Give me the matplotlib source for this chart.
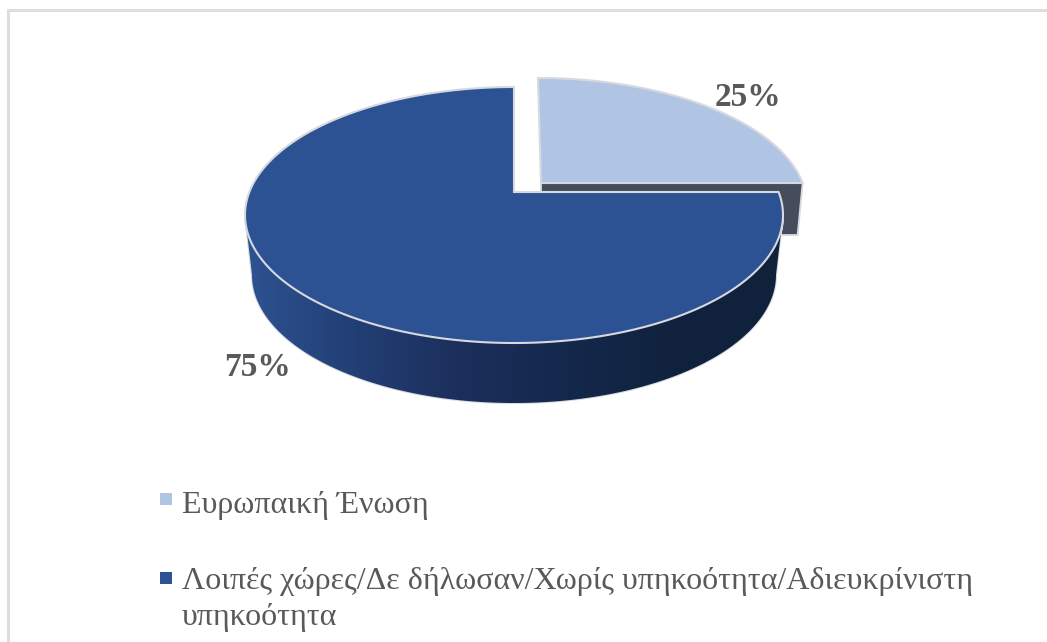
import numpy as np
import matplotlib
matplotlib.use("Agg")
import matplotlib.pyplot as plt
from matplotlib.colors import LinearSegmentedColormap
from matplotlib.patches import Polygon

categories = ["Ευρωπαική Ένωση", "Λοιπές χώρες/Δε δήλωσαν/Χωρίς υπηκοότητα/Αδιευκρίνιστη\nυπηκοότητα"]
values = [25, 75]
labels = ["25%", "75%"]
colors = ["#B0C4E3", "#2C5294"]

plt.rcParams["font.family"] = ["Liberation Serif", "DejaVu Serif"]

fig = plt.figure(figsize=(10.47, 6.42), dpi=100)
ax = fig.add_axes([0, 0, 1, 1])
ax.set_xlim(0, 1047)
ax.set_ylim(642, 0)
ax.axis("off")

edge = "#D6D9DF"
text_color = "#595959"

# chart frame, only top and left are in the crop
ax.plot([8, 8, 1047], [642, 10, 10], color="#DEDEDE", lw=2.2, solid_joinstyle="miter")

# pie geometry in pixels: ellipse, and the tilted apex of the slices
cx, cy, rx, ry = 514, 215, 269, 128
apex_y = 192
bx, by, brx, bry = 514, 275, 262, 128


def rim(angles, dx=0, dy=0):
    # where a ray from the apex meets the ellipse, for each pie angle
    pts = []
    for a in np.radians(angles):
        ux = np.cos(a)
        uy = -np.sin(a) * ry / rx
        k = apex_y - cy
        A = (ux / rx) ** 2 + (uy / ry) ** 2
        B = 2 * uy * k / ry ** 2
        C = (k / ry) ** 2 - 1
        s = (-B + np.sqrt(B ** 2 - 4 * A * C)) / (2 * A)
        pts.append((cx + s * ux + dx, apex_y + s * uy + dy))
    return pts


shares = np.array(values) / sum(values) * 360
light_start, light_end = 90, 90 - shares[0]
main_start, main_end = light_end, light_end - shares[1]

# exploded slice, its shift is the offset from the main pie
dx, dy = 24, -9
light_rim = rim(np.linspace(light_start, light_end, 80), dx, dy)
light_apex = (cx + dx, apex_y + dy)
right_pt = light_rim[-1]
ax.add_patch(Polygon([(light_apex[0] + 3, light_apex[1]), right_pt, (right_pt[0] - 5, 235),
                      (light_apex[0] + 3, 235)], closed=True, fc="#474C5C", ec=edge, lw=1.3, zorder=2))
ax.add_patch(Polygon([(light_apex[0] + 3, light_apex[1])] + light_rim, closed=True,
                     fc=colors[0], ec=edge, lw=1.5, zorder=3))

# side wall of the main slice with its left to right shading
t = np.radians(np.linspace(180, 360, 200))
top_edge = np.column_stack([cx + rx * np.cos(t), cy - ry * np.sin(t)])
low_edge = np.column_stack([bx + brx * np.cos(t), by - bry * np.sin(t)])
wall = Polygon(np.vstack([top_edge, low_edge[::-1]]), closed=True, fc="none", ec=edge, lw=1.5, zorder=4)
ax.add_patch(wall)
shade = LinearSegmentedColormap.from_list(
    "side", ["#2D5391", "#223F76", "#1C2F5B", "#14284C", "#10223D", "#0F213B"])
im = ax.imshow(np.linspace(0, 1, 256).reshape(1, -1), cmap=shade, aspect="auto",
               extent=(245, 782, 410, 200), zorder=4)
im.set_clip_path(wall)
ax.set_xlim(0, 1047)
ax.set_ylim(642, 0)

main_rim = rim(np.linspace(main_start, main_end, 300))
ax.add_patch(Polygon([(cx, apex_y)] + main_rim, closed=True, fc=colors[1], ec=edge, lw=1.5,
                     joinstyle="miter", zorder=5))

# data labels
ax.text(747.5, 97, labels[0], fontsize=24, fontweight="bold", color=text_color,
        ha="center", va="center", zorder=6)
ax.text(257, 368, labels[1], fontsize=24, fontweight="bold", color=text_color,
        ha="center", va="center", zorder=6)

# legend
ax.scatter([166, 166], [499, 578], marker="s", s=70, c=colors, linewidths=0, zorder=6)
ax.text(182, 505, categories[0], fontsize=23, color=text_color, ha="left", va="center")
ax.text(182, 617, categories[1].split("\n")[1], fontsize=23, color=text_color, ha="left", va="center")
ax.text(182, 582, categories[1].split("\n")[0], fontsize=23, color=text_color, ha="left", va="center")

fig.savefig("out.png", dpi=100)
